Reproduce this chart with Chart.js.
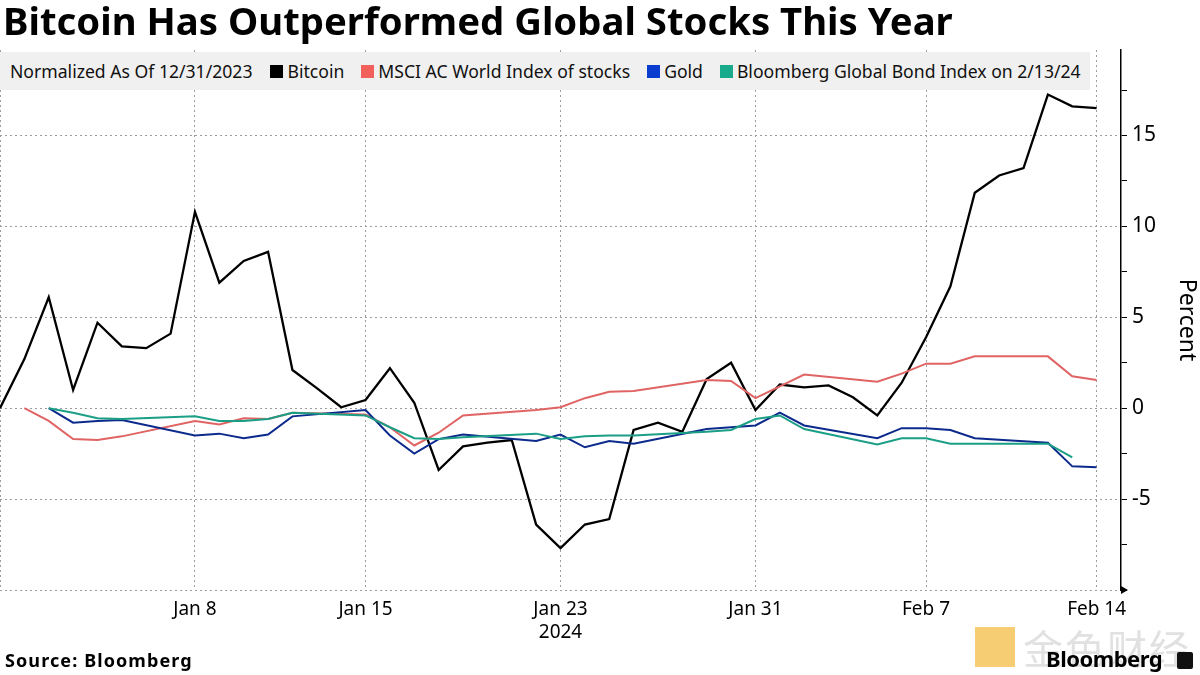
<!DOCTYPE html>
<html><head><meta charset="utf-8">
<script src="https://cdn.jsdelivr.net/npm/chart.js@4.4.1/dist/chart.umd.min.js"></script>
<style>
html,body{margin:0;padding:0;background:#fff;}
#wrap{position:relative;width:1200px;height:675px;overflow:hidden;font-family:"Noto Sans",sans-serif;}
#c{position:absolute;left:0;top:0;}
#title{position:absolute;left:3px;top:-6px;font-size:38.3px;font-weight:bold;color:#000;white-space:nowrap;font-family:"Noto Sans",sans-serif;}
#legend{position:absolute;left:0;top:52px;width:1090px;height:38px;background:#f0f0f0;display:flex;align-items:center;font-size:17.6px;color:#111;white-space:nowrap;}
#legend .t{margin-left:10px;margin-right:18px;}
#legend .it{display:flex;align-items:center;margin-right:17px;}
#legend .sq{width:13px;height:13px;margin-right:4px;}
#source{position:absolute;left:5px;top:648px;font-size:18px;font-weight:bold;letter-spacing:1.1px;}
#bbg{position:absolute;left:1046px;top:643px;font-size:22px;font-weight:bold;letter-spacing:-0.5px;}
#bico{position:absolute;left:1177px;top:652px;width:16px;height:17px;background:#111;border-radius:2px;}
#wm{position:absolute;left:975px;top:618px;display:flex;align-items:center;opacity:0.55;}
#wm .logo{width:40px;height:40px;background:#f0a500;margin-right:8px;}
#wm .txt{font-family:"Noto Sans CJK SC",sans-serif;font-size:40px;color:#c8c8c8;letter-spacing:2px;}
</style></head>
<body><div id="wrap">
<canvas id="c" width="1200" height="675"></canvas>
<div id="title">Bitcoin Has Outperformed Global Stocks This Year</div>
<div id="legend"><span class="t">Normalized As Of 12/31/2023</span>
<span class="it"><span class="sq" style="background:#000"></span>Bitcoin</span>
<span class="it"><span class="sq" style="background:#f2605c"></span>MSCI AC World Index of stocks</span>
<span class="it"><span class="sq" style="background:#0a3ccf"></span>Gold</span>
<span class="it"><span class="sq" style="background:#17ab8b"></span>Bloomberg Global Bond Index on 2/13/24</span></div>
<div id="wm"><div class="logo"></div><div class="txt">金色财经</div></div>
<div id="source">Source: Bloomberg</div>
<div id="bbg">Bloomberg</div><div id="bico"></div>
</div>
<script>
const days = ["Dec 31","Jan 1","Jan 2","Jan 3","Jan 4","Jan 5","Jan 6","Jan 7","Jan 8","Jan 9","Jan 10","Jan 11","Jan 12","Jan 13","Jan 14","Jan 15","Jan 16","Jan 17","Jan 18","Jan 19","Jan 20","Jan 21","Jan 22","Jan 23","Jan 24","Jan 25","Jan 26","Jan 27","Jan 28","Jan 29","Jan 30","Jan 31","Feb 1","Feb 2","Feb 3","Feb 4","Feb 5","Feb 6","Feb 7","Feb 8","Feb 9","Feb 10","Feb 11","Feb 12","Feb 13","Feb 14","Feb 15"];
const tickLabels = ["Dec 31","Jan 8","Jan 15","Jan 23","Jan 31","Feb 7","Feb 14"];
const shownLabels = ["Jan 8","Jan 15","Jan 23","Jan 31","Feb 7","Feb 14"];
const yearLabel = "2024";
const yearUnder = "Jan 23";
const yLabelValues = [-5,0,5,10,15];

const bitcoin = [0,2.7,6.1,1.0,4.7,3.4,3.3,4.1,10.8,6.9,8.1,8.6,2.1,1.1,0.05,0.45,2.2,0.3,-3.4,-2.1,-1.9,-1.75,-6.4,-7.7,-6.4,-6.1,-1.2,-0.8,-1.3,1.6,2.5,-0.1,1.3,1.15,1.25,0.6,-0.4,1.4,3.9,6.7,11.85,12.8,13.2,17.25,16.6,16.5,null];
const msci = [null,0,-0.7,-1.7,-1.75,-1.55,null,null,-0.7,-0.9,-0.55,-0.6,-0.25,null,null,-0.35,-1.05,-2.05,-1.35,-0.4,null,null,-0.1,0.05,0.55,0.9,0.95,null,null,1.55,1.5,0.55,1.2,1.85,null,null,1.45,1.9,2.45,2.45,2.85,null,null,2.85,1.75,1.55,null];
const gold = [null,null,0,-0.8,-0.7,-0.65,null,null,-1.5,-1.4,-1.65,-1.45,-0.45,null,null,-0.1,-1.5,-2.5,-1.7,-1.45,null,null,-1.8,-1.45,-2.15,-1.8,-1.95,null,null,-1.15,-1.05,-0.95,-0.25,-0.95,null,null,-1.65,-1.1,-1.1,-1.2,-1.65,null,null,-1.9,-3.2,-3.25,null];
const bond = [null,null,0,-0.25,-0.55,-0.6,null,null,-0.45,-0.7,-0.7,-0.6,-0.25,null,null,-0.4,-1.05,-1.65,-1.7,-1.6,null,null,-1.4,-1.7,-1.55,-1.5,-1.5,null,null,-1.3,-1.2,-0.6,-0.4,-1.15,null,null,-2.0,-1.65,-1.65,-1.95,-1.95,null,null,-1.95,-2.7,null,null];

const gridCol = '#9c9c9c';
const axisArrows = {
  id:'axisArrows',
  afterDraw(chart){
    const {ctx, chartArea:a} = chart;
    ctx.save(); ctx.fillStyle='#000';
    ctx.beginPath(); ctx.moveTo(a.right, a.bottom-4); ctx.lineTo(a.right+7, a.bottom); ctx.lineTo(a.right, a.bottom+4); ctx.closePath(); ctx.fill();
    ctx.restore();
  }
};

new Chart(document.getElementById('c'), {
  type:'line',
  data:{
    labels: days,
    datasets:[
      {label:'Bloomberg Global Bond Index on 2/13/24', data:bond, borderColor:'#1a9f86', borderWidth:2},
      {label:'Gold', data:gold, borderColor:'#0c2a8c', borderWidth:2},
      {label:'MSCI AC World Index of stocks', data:msci, borderColor:'#e06464', borderWidth:2},
      {label:'Bitcoin', data:bitcoin, borderColor:'#000000', borderWidth:2.3}
    ]
  },
  options:{
    responsive:false, animation:false,
    layout:{padding:{top:50,left:0,right:0,bottom:0}},
    elements:{point:{radius:0}, line:{tension:0, borderJoinStyle:'miter'}},
    spanGaps:true,
    plugins:{legend:{display:false}, tooltip:{enabled:false}},
    scales:{
      x:{
        type:'category', offset:false,
        afterFit(s){ s.height = 85; s.paddingLeft = 0; s.paddingRight = 0; },
        border:{display:false, dash:[2,3]},
        grid:{drawTicks:false, color(ctx){ const l = days[ctx.index]; return tickLabels.includes(l) ? gridCol : 'rgba(0,0,0,0)'; }, lineWidth:1},
        ticks:{autoSkip:false, maxRotation:0, padding:8, color:'#000', font:{family:'Noto Sans', size:19},
          callback(v,i){ const l = days[i]; if(!shownLabels.includes(l)) return ''; return l===yearUnder ? [l, yearLabel] : l; }}
      },
      y:{
        position:'right', min:-10, max:19.7,
        afterFit(s){ s.width = 79; },
        afterBuildTicks(s){ s.ticks = s.ticks.filter(t => Math.abs(t.value/2.5 - Math.round(t.value/2.5))<1e-6); },
        border:{display:true, color:'#000', width:1.5, dash:[2,3]},
        grid:{drawTicks:true, tickLength:6, tickColor:'#000', lineWidth:1,
          color(ctx){ const v = ctx.tick ? ctx.tick.value : 0; return (Math.abs(v%5)<1e-6) ? gridCol : 'rgba(0,0,0,0)'; }},
        ticks:{stepSize:2.5, padding:5, color:'#000', font:{family:'Noto Sans', size:21},
          callback(v){ return yLabelValues.includes(v) ? String(v) : ''; }},
        title:{display:true, text:'Percent', color:'#000', font:{family:'Noto Sans', size:23}, padding:{top:0,bottom:4}}
      }
    }
  },
  plugins:[axisArrows]
});
</script>
</body></html>
